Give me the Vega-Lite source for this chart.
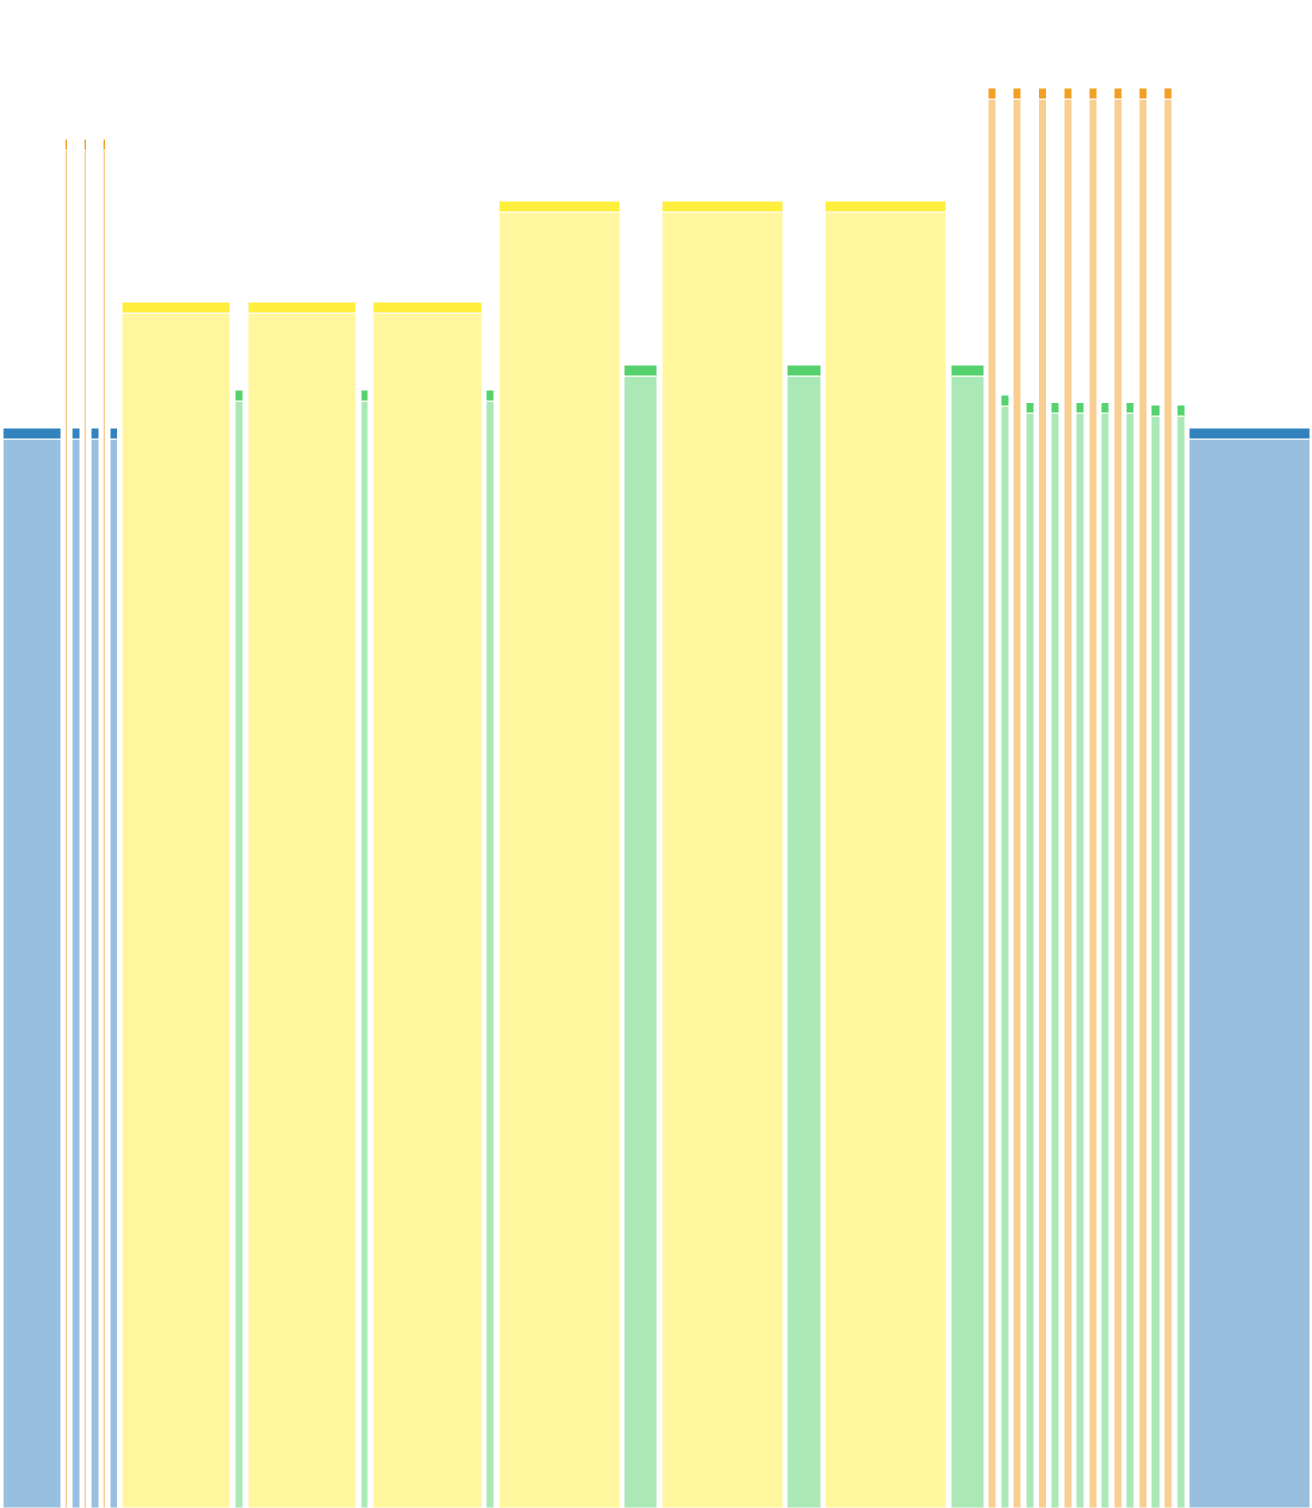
{
  "$schema": "https://vega.github.io/schema/vega-lite/v6.json",
  "width": 1312,
  "height": 1508,
  "padding": 0,
  "autosize": {"type": "none"},
  "background": "white",
  "config": {"view": {"stroke": null}},
  "data": {
    "values": [
      {"start": 3, "end": 61, "group": "blue", "value": 1069, "total": 1080},
      {"start": 65, "end": 67.5, "group": "orange", "value": 1358, "total": 1369},
      {"start": 72, "end": 80, "group": "blue", "value": 1069, "total": 1080},
      {"start": 84, "end": 86.5, "group": "orange", "value": 1358, "total": 1369},
      {"start": 91, "end": 99, "group": "blue", "value": 1069, "total": 1080},
      {"start": 103, "end": 105.5, "group": "orange", "value": 1358, "total": 1369},
      {"start": 110, "end": 117.5, "group": "blue", "value": 1069, "total": 1080},
      {"start": 122, "end": 230, "group": "yellow", "value": 1195, "total": 1206},
      {"start": 235, "end": 243, "group": "green", "value": 1107, "total": 1118},
      {"start": 248, "end": 356, "group": "yellow", "value": 1195, "total": 1206},
      {"start": 361, "end": 368, "group": "green", "value": 1107, "total": 1118},
      {"start": 373, "end": 482, "group": "yellow", "value": 1195, "total": 1206},
      {"start": 486, "end": 494, "group": "green", "value": 1107, "total": 1118},
      {"start": 499, "end": 620, "group": "yellow", "value": 1296, "total": 1307},
      {"start": 624, "end": 657, "group": "green", "value": 1132, "total": 1143},
      {"start": 662, "end": 783, "group": "yellow", "value": 1296, "total": 1307},
      {"start": 787, "end": 821, "group": "green", "value": 1132, "total": 1143},
      {"start": 825, "end": 946, "group": "yellow", "value": 1296, "total": 1307},
      {"start": 951, "end": 984, "group": "green", "value": 1132, "total": 1143},
      {"start": 988, "end": 996, "group": "orange", "value": 1409, "total": 1420},
      {"start": 1001, "end": 1009, "group": "green", "value": 1102, "total": 1113},
      {"start": 1013, "end": 1021, "group": "orange", "value": 1409, "total": 1420},
      {"start": 1026, "end": 1034, "group": "green", "value": 1095, "total": 1105.5},
      {"start": 1038.5, "end": 1046.5, "group": "orange", "value": 1409, "total": 1420},
      {"start": 1051, "end": 1059, "group": "green", "value": 1095, "total": 1105.5},
      {"start": 1064, "end": 1072, "group": "orange", "value": 1409, "total": 1420},
      {"start": 1076, "end": 1084, "group": "green", "value": 1095, "total": 1105.5},
      {"start": 1089, "end": 1097, "group": "orange", "value": 1409, "total": 1420},
      {"start": 1101, "end": 1109, "group": "green", "value": 1095, "total": 1105.5},
      {"start": 1114, "end": 1122, "group": "orange", "value": 1409, "total": 1420},
      {"start": 1126, "end": 1134, "group": "green", "value": 1095, "total": 1105.5},
      {"start": 1139, "end": 1147, "group": "orange", "value": 1409, "total": 1420},
      {"start": 1151, "end": 1160, "group": "green", "value": 1092, "total": 1103},
      {"start": 1164, "end": 1172, "group": "orange", "value": 1409, "total": 1420},
      {"start": 1177, "end": 1185, "group": "green", "value": 1092, "total": 1103},
      {"start": 1189, "end": 1310, "group": "blue", "value": 1069, "total": 1080}
    ]
  },
  "encoding": {
    "x": {
      "field": "start",
      "type": "quantitative",
      "scale": {"domain": [0, 1312], "nice": false, "zero": false},
      "axis": null
    },
    "x2": {"field": "end"},
    "color": {
      "field": "group",
      "type": "nominal",
      "scale": {
        "domain": ["blue", "orange", "yellow", "green"],
        "range": ["#3182bd", "#f2a023", "#ffee3b", "#55d16d"]
      },
      "legend": null
    }
  },
  "layer": [
    {
      "mark": {"type": "rect", "fillOpacity": 0.5, "stroke": "white", "strokeWidth": 1},
      "encoding": {
        "y": {
          "field": "value",
          "type": "quantitative",
          "scale": {"domain": [0, 1508], "nice": false},
          "axis": null
        },
        "y2": {"datum": 0}
      }
    },
    {
      "mark": {"type": "rect", "stroke": "white", "strokeWidth": 1},
      "encoding": {
        "y": {"field": "value", "type": "quantitative"},
        "y2": {"field": "total"}
      }
    }
  ]
}
